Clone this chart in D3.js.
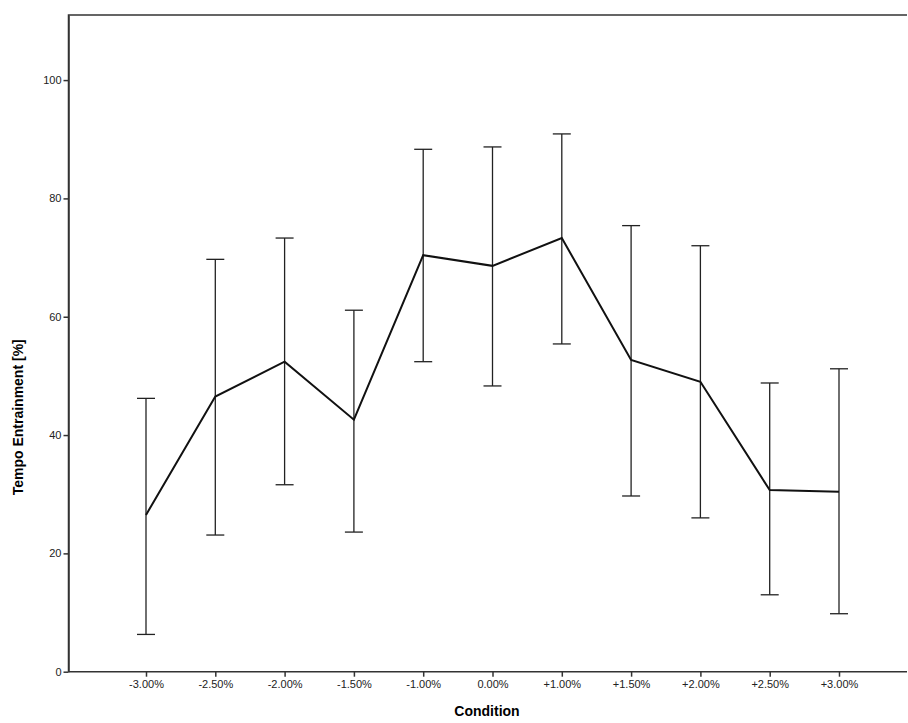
<!DOCTYPE html>
<html><head><meta charset="utf-8">
<script src="https://cdn.jsdelivr.net/npm/d3@7"></script>
<style>body{margin:0;background:#fff}</style>
</head><body>
<svg id="svg" width="908" height="723"></svg>
<script>
const conditions = ["-3.00%","-2.50%","-2.00%","-1.50%","-1.00%","0.00%","+1.00%","+1.50%","+2.00%","+2.50%","+3.00%"];
const means = [26.5, 46.5, 52.4, 42.6, 70.4, 68.6, 73.3, 52.7, 49.0, 30.7, 30.4];
const upper = [46.2, 69.7, 73.3, 61.1, 88.3, 88.7, 90.9, 75.4, 72.0, 48.8, 51.2];
const lower = [6.3, 23.1, 31.6, 23.6, 52.4, 48.3, 55.4, 29.7, 26.0, 13.0, 9.8];
const yTicks = [0, 20, 40, 60, 80, 100];

const svg = d3.select("#svg");
const x = d3.scalePoint().domain(conditions).range([146, 839]);
const y = d3.scaleLinear().domain([0, 111]).range([671.7, 15]);
const left = 68.5, right = 907;

const font = "Arial, 'Liberation Sans', sans-serif";

// frame
svg.append("path")
  .attr("d", `M${left},${y(0)}V15H${right}`)
  .attr("fill", "none").attr("stroke", "#333").attr("stroke-width", 1.5);

const yAxis = svg.append("g").attr("transform", `translate(${left},0)`)
  .call(d3.axisLeft(y).tickValues(yTicks).tickSize(5).tickSizeOuter(0).tickPadding(2));
const xAxis = svg.append("g").attr("transform", `translate(0,${y(0)})`)
  .call(d3.axisBottom(x).tickSize(5).tickSizeOuter(0).tickPadding(4));
xAxis.select(".domain").attr("d", `M${left},0H${right}`);
[xAxis, yAxis].forEach(a => {
  a.selectAll("path,line").attr("stroke", "#333").attr("stroke-width", 1.5);
  a.selectAll("text").attr("font-family", font).attr("font-size", 11).attr("fill", "#222");
});

// error bars
const g = svg.append("g").attr("stroke", "#222").attr("stroke-width", 1.3);
conditions.forEach((c, i) => {
  g.append("line").attr("x1", x(c)).attr("x2", x(c)).attr("y1", y(upper[i])).attr("y2", y(lower[i]));
  [upper[i], lower[i]].forEach(v =>
    g.append("line").attr("x1", x(c) - 9).attr("x2", x(c) + 9).attr("y1", y(v)).attr("y2", y(v)));
});

svg.append("path").datum(means)
  .attr("d", d3.line().x((d, i) => x(conditions[i])).y(d => y(d)))
  .attr("fill", "none").attr("stroke", "#111").attr("stroke-width", 2);

svg.append("text").attr("x", 487).attr("y", 716).attr("text-anchor", "middle")
  .attr("font-family", font).attr("font-weight", "bold").attr("font-size", 14).text("Condition");
svg.append("text").attr("transform", `translate(23,${y(43)}) rotate(-90)`).attr("text-anchor", "middle")
  .attr("font-family", font).attr("font-weight", "bold").attr("font-size", 14).text("Tempo Entrainment [%]");
</script>
</body></html>
